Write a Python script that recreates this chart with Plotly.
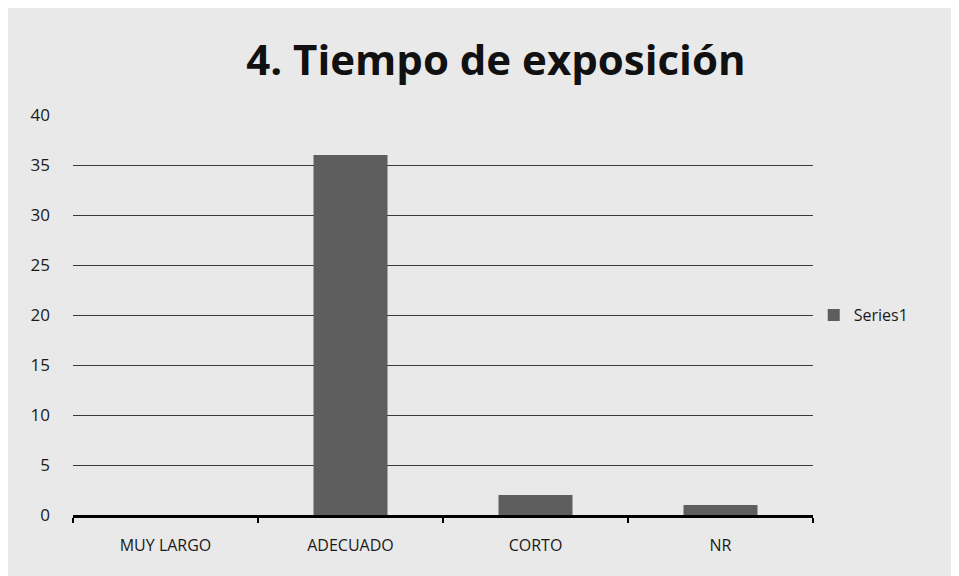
import plotly.graph_objects as go

categories = ["MUY LARGO", "ADECUADO", "CORTO", "NR"]
values = [0, 36, 2, 1]
y_ticks = [0, 5, 10, 15, 20, 25, 30, 35, 40]
title_text = "4. Tiempo de exposición"
series_name = "Series1"

fig = go.Figure()
fig.add_trace(go.Bar(
    x=categories, y=values, name=series_name,
    marker=dict(color="#5e5e5e", line=dict(width=0)),
    showlegend=True,
))

# page body has an 8px margin, so size the figure to fit the 959x576 window
W, H = 951, 568
fig.update_layout(
    width=W, height=H,
    margin=dict(l=65, r=W - 805, t=107, b=H - 507),
    paper_bgcolor="#e9e9e9",
    plot_bgcolor="#e9e9e9",
    font=dict(family="Open Sans, Liberation Sans, sans-serif", color="#1a1a1a", size=16),
    title=dict(text="<b>" + title_text + "</b>", x=0.513, xanchor="center",
               yref="container", y=0.908, yanchor="middle",
               font=dict(size=42, color="#111111")),
    bargap=0.6,
    legend=dict(x=1.001, y=0.5, xanchor="left", yanchor="middle",
                bgcolor="rgba(0,0,0,0)", font=dict(size=16),
                itemwidth=30),
    xaxis=dict(
        showline=True, linecolor="#000000", linewidth=3,
        ticks="outside", ticklen=5, tickwidth=2, tickcolor="#000000",
        tickson="boundaries", showgrid=False,
        tickfont=dict(size=16), ticklabelstandoff=14,
    ),
    yaxis=dict(
        range=[0, 40], tickvals=y_ticks,
        showgrid=True, gridcolor="#3a3a3a", gridwidth=1,
        showline=False, zeroline=False,
        tickfont=dict(size=17), ticklabelstandoff=22,
    ),
)

fig.write_html("out.html")
